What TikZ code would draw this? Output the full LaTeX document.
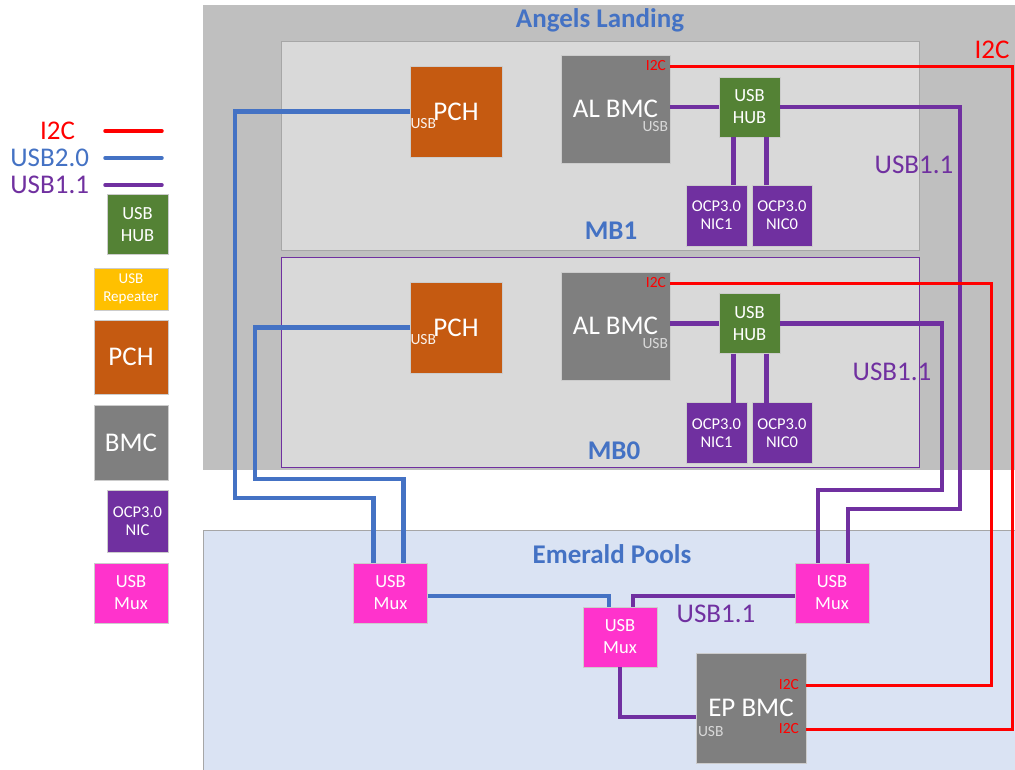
\documentclass[tikz,border=0pt]{standalone}
\usepackage{fontspec}
\setmainfont{Carlito}
\definecolor{alfill}{HTML}{BFBFBF}
\definecolor{mbfill}{HTML}{D9D9D9}
\definecolor{epfill}{HTML}{DAE3F3}
\definecolor{titleblue}{HTML}{4472C4}
\definecolor{usbblue}{HTML}{4472C4}
\definecolor{pchcol}{HTML}{C55A11}
\definecolor{bmccol}{HTML}{7F7F7F}
\definecolor{hubcol}{HTML}{548235}
\definecolor{niccol}{HTML}{7030A0}
\definecolor{muxcol}{HTML}{FF33CC}
\definecolor{repcol}{HTML}{FFC000}
\definecolor{i2ccol}{HTML}{FF0000}

\begin{document}
\begin{tikzpicture}[x=1pt, y=-1pt,
	every node/.style={inner sep=0pt, outer sep=0pt},
	chip/.style={draw=black!20, line width=0.7pt, text=white, align=center},
	pchbox/.style={chip, fill=pchcol, minimum width=92pt, minimum height=91pt, font=\fontsize{27}{30}\selectfont},
	bmcbox/.style={chip, fill=bmccol, minimum width=109pt, minimum height=108pt, font=\fontsize{27}{30}\selectfont},
	hubbox/.style={chip, fill=hubcol, minimum width=61pt, minimum height=60pt, font=\fontsize{18.5}{22}\selectfont},
	nicbox/.style={chip, fill=niccol, minimum width=61pt, minimum height=61pt, font=\fontsize{16.5}{18}\selectfont},
	muxbox/.style={chip, fill=muxcol, minimum width=74pt, minimum height=60pt, font=\fontsize{18.5}{22}\selectfont},
	title/.style={text=titleblue, font=\fontsize{27}{30}\selectfont\bfseries},
	bus/.style={font=\fontsize{27}{30}\selectfont},
	pin/.style={font=\fontsize{15.5}{17}\selectfont},
	usbtwo/.style={draw=usbblue, line width=4.5pt},
	usbone/.style={draw=niccol, line width=4.5pt},
	i2c/.style={draw=i2ccol, line width=3pt},
]
\fill[white] (0,0) rectangle (1015,769);
\useasboundingbox (0,0) rectangle (1015,769);

% boards
\fill[alfill] (203,5) rectangle (1015,470);
\draw[black!35, fill=mbfill] (281,41) rectangle (919,250);
\draw[niccol, line width=0.9pt, fill=mbfill] (281,257) rectangle (919,467);
\draw[black!35, fill=epfill] (203,530) rectangle (1016,770);

\node[title] (altitle) at (600,20) {Angels Landing};
\node[title] (mb1title) at (611,231) {MB1};
\node[title] (mb0title) at (614,451) {MB0};
\node[title] (eptitle) at (612,554) {Emerald Pools};

% legend
\node[bus, text=i2ccol] (keyi2c) at (57.5,131) {I2C};
\node[bus, text=usbblue, anchor=east] (keyusbtwo) at (89,158) {USB2.0};
\node[bus, text=niccol, anchor=east] (keyusbone) at (89,185) {USB1.1};
\draw[i2c, line width=3.5pt, line cap=round] ([xshift=16pt]keyusbtwo.east |- keyi2c.east) -- ++(57,0);
\draw[usbtwo, line width=3.5pt, line cap=round] ([xshift=16pt]keyusbtwo.east) -- ++(57,0);
\draw[usbone, line width=3.5pt, line cap=round] ([xshift=16pt]keyusbone.east) -- ++(57,0);
\node[hubbox] (keyhub) at (137.5,224.5) {USB\\HUB};
\node[chip, fill=repcol, minimum width=74pt, minimum height=42pt, font=\fontsize{15}{18}\selectfont] (keyrep) at (131,289) {USB\\Repeater};
\node[pchbox, minimum width=74pt, minimum height=74pt] (keypch) at (131,357) {PCH};
\node[bmcbox, minimum width=74pt, minimum height=75pt] (keybmc) at (131,442.5) {BMC};
\node[nicbox, minimum height=62pt] (keynic) at (137.5,521) {OCP3.0\\NIC};
\node[muxbox] (keymux) at (131,593) {USB\\Mux};

% MB1
\node[pchbox] (pch1) at (456,111.5) {PCH};
\node[bmcbox] (bmc1) at (615.5,109) {AL BMC};
\node[hubbox] (hub1) at (749.5,107) {USB\\HUB};
\node[nicbox] (nicone1) at (716.5,215.5) {OCP3.0\\NIC1};
\node[nicbox, minimum width=60pt] (niczero1) at (782,215.5) {OCP3.0\\NIC0};

% MB0
\node[pchbox] (pch0) at (456,327.5) {PCH};
\node[bmcbox] (bmc0) at (615.5,326) {AL BMC};
\node[hubbox] (hub0) at (749.5,323.5) {USB\\HUB};
\node[nicbox] (nicone0) at (716.5,433) {OCP3.0\\NIC1};
\node[nicbox, minimum width=60pt] (niczero0) at (782,433) {OCP3.0\\NIC0};

% Emerald Pools
\node[muxbox] (muxl) at (390.5,593) {USB\\Mux};
\node[muxbox] (muxc) at (620,637) {USB\\Mux};
\node[muxbox] (muxr) at (832,593) {USB\\Mux};
\node[bmcbox, minimum width=110pt, minimum height=110pt] (epbmc) at (751,708) {EP BMC};

% pins
\foreach \b in {1,0} {
	\node[pin, text=white!92!pchcol, anchor=west] at ([xshift=0.5pt,yshift=-12.5pt]pch\b.west) {USB};
	\coordinate (bmc\b i2c) at ([yshift=-11pt]bmc\b.north east);
	\node[pin, text=i2ccol, anchor=east] at ([xshift=-4pt]bmc\b i2c) {I2C};
	\node[pin, text=black!15, anchor=east] at ([xshift=-2pt,yshift=-18pt]bmc\b.east) {USB};
}
\coordinate (epi2ca) at ([yshift=23pt]epbmc.east);
\coordinate (epi2cb) at ([yshift=-21pt]epbmc.east);
\node[pin, text=i2ccol, anchor=east] at ([xshift=-7pt]epi2ca) {I2C};
\node[pin, text=i2ccol, anchor=east] at ([xshift=-7pt]epi2cb) {I2C};
\node[pin, text=black!15, anchor=west] at ([xshift=2pt,yshift=-24pt]epbmc.west) {USB};

% USB2.0
\draw[usbtwo] (pch1.west) -| (235,498) -| ([xshift=-17pt]muxl.north);
\draw[usbtwo] (pch0.west) -| (255,479) -| ([xshift=13pt]muxl.north);
\draw[usbtwo] ([yshift=-3pt]muxl.east) -| ([xshift=-11pt]muxc.north);

% USB1.1
\foreach \b in {1,0} {
	\draw[usbone] (hub\b.west) -- (hub\b.west -| bmc\b.east);
	\draw[usbone] ([xshift=-16pt]hub\b.south) -- ([xshift=-16pt]hub\b.south |- nicone\b.north);
	\draw[usbone] ([xshift=17pt]hub\b.south) -- ([xshift=17pt]hub\b.south |- niczero\b.north);
}
\draw[usbone] (hub1.east) -| (960,509) -| ([xshift=16pt]muxr.north);
\draw[usbone] (hub0.east) -| (942,490) -| ([xshift=-14pt]muxr.north);
\draw[usbone] ([xshift=13pt]muxc.north) |- ([yshift=-3pt]muxr.west);
\draw[usbone] (muxc.south) |- ([yshift=-9pt]epbmc.west);

% I2C
\draw[i2c] (bmc1i2c) -| (1012,729) -- (epi2cb);
\draw[i2c] (bmc0i2c) -| (991,685) -- (epi2ca);

% bus labels
\node[bus, text=i2ccol] (i2clabel) at (992,50) {I2C};
\node[bus, text=niccol] (usbonea) at (914,165) {USB1.1};
\node[bus, text=niccol] (usboneb) at (892,372) {USB1.1};
\node[bus, text=niccol] (usbonec) at (716,614) {USB1.1};
\end{tikzpicture}
\end{document}
